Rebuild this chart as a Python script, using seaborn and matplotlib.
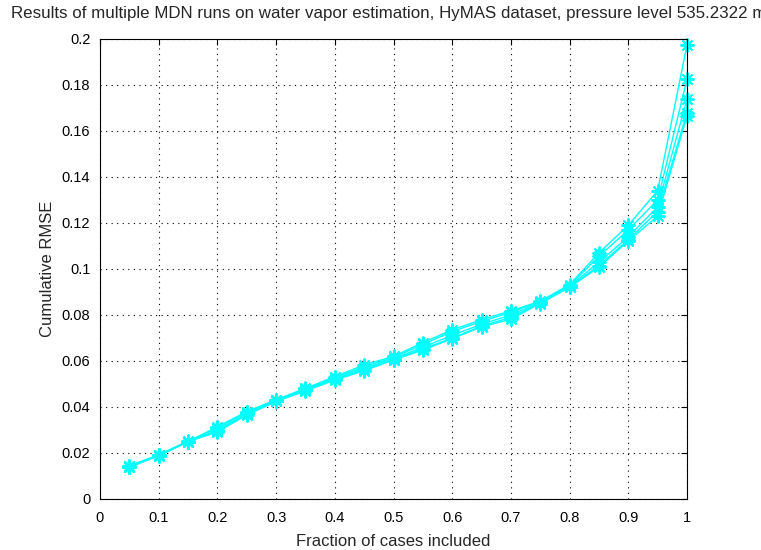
import numpy as np
import pandas as pd
import seaborn as sns
import matplotlib
matplotlib.use("Agg")
import matplotlib.pyplot as plt

# Fractie van meegenomen gevallen
fraction = [0.05, 0.10, 0.15, 0.20, 0.25, 0.30, 0.35, 0.40, 0.45, 0.50,
            0.55, 0.60, 0.65, 0.70, 0.75, 0.80, 0.85, 0.90, 0.95, 1.00]

run1 = [0.0140, 0.0190, 0.0250, 0.0314, 0.0380, 0.0432, 0.0481, 0.0532, 0.0583, 0.0620,
        0.0680, 0.0735, 0.0780, 0.0818, 0.0860, 0.0932, 0.1070, 0.1190, 0.1340, 0.1975]
run2 = [0.0145, 0.0192, 0.0252, 0.0308, 0.0377, 0.0430, 0.0478, 0.0528, 0.0575, 0.0615,
        0.0672, 0.0728, 0.0772, 0.0812, 0.0858, 0.0928, 0.1055, 0.1170, 0.1300, 0.1825]
run3 = [0.0142, 0.0189, 0.0249, 0.0300, 0.0372, 0.0428, 0.0475, 0.0524, 0.0568, 0.0610,
        0.0660, 0.0712, 0.0760, 0.0800, 0.0855, 0.0925, 0.1030, 0.1140, 0.1270, 0.1740]
run4 = [0.0138, 0.0188, 0.0248, 0.0295, 0.0368, 0.0425, 0.0472, 0.0520, 0.0562, 0.0606,
        0.0652, 0.0700, 0.0752, 0.0790, 0.0852, 0.0922, 0.1015, 0.1128, 0.1250, 0.1680]
run5 = [0.0141, 0.0190, 0.0250, 0.0292, 0.0365, 0.0424, 0.0470, 0.0517, 0.0558, 0.0604,
        0.0648, 0.0697, 0.0748, 0.0782, 0.0850, 0.0920, 0.1008, 0.1122, 0.1230, 0.1665]

runs = [run1, run2, run3, run4, run5]

df = pd.concat(
    [pd.DataFrame({"fraction": fraction, "rmse": r, "run": i}) for i, r in enumerate(runs)],
    ignore_index=True,
)

sns.set_style("white")
plt.rcParams["font.family"] = ["Liberation Sans", "DejaVu Sans"]

fig = plt.figure(figsize=(7.61, 5.5), dpi=100)
ax = fig.add_axes([100 / 761, 51 / 550, 587 / 761, 460 / 550])

sns.lineplot(data=df, x="fraction", y="rmse", units="run", estimator=None,
             color="#00ffff", marker=(8, 2, 0), markersize=10, markeredgecolor="#00ffff",
             markeredgewidth=1.4, linewidth=1.0, clip_on=False, ax=ax)

ax.set_xlim(0, 1)
ax.set_ylim(0, 0.2)
ax.set_xticks(np.arange(0, 1.01, 0.1))
ax.set_yticks(np.arange(0, 0.201, 0.02))
ax.set_xticklabels(["0", "0.1", "0.2", "0.3", "0.4", "0.5", "0.6", "0.7", "0.8", "0.9", "1"])
ax.set_yticklabels(["0", "0.02", "0.04", "0.06", "0.08", "0.1", "0.12", "0.14", "0.16", "0.18", "0.2"])
ax.tick_params(direction="in", length=4, top=True, right=True, labelsize=10.5, colors="black")
ax.tick_params(axis="x", pad=9)
ax.tick_params(axis="y", pad=7)
ax.grid(True, color="black", linestyle=(0, (1, 4)), linewidth=0.8)
for s in ax.spines.values():
    s.set_color("black")
    s.set_linewidth(0.8)

ax.set_xlabel("Fraction of cases included", fontsize=12, labelpad=6)
ax.set_ylabel("Cumulative RMSE", fontsize=12, labelpad=5)
# titel loopt net als in het origineel over de rechterrand
ax.set_title("Results of multiple MDN runs on water vapor estimation, HyMAS dataset, "
             "pressure level 535.2322 mb", fontsize=12.2, pad=15)

fig.savefig("out.png", dpi=100)
